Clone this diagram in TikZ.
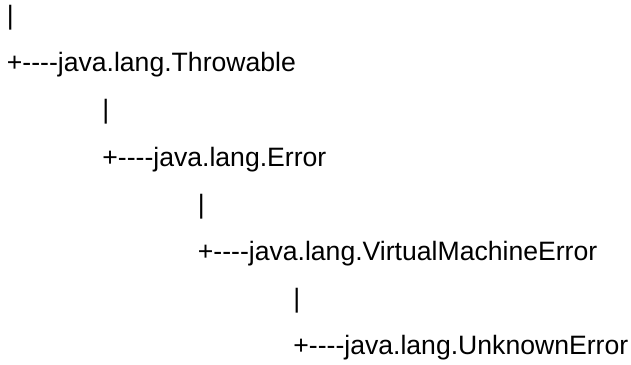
\documentclass[tikz,border=0pt]{standalone}
\usepackage{fontspec}
\setmainfont{Liberation Sans}[Ligatures=TeXOff]
\usetikzlibrary{positioning}

\begin{document}
\begin{tikzpicture}[x=1pt, y=-1pt, treeline/.style={anchor=base west, inner sep=0pt, font=\fontsize{26.6}{31}\selectfont}]
    \useasboundingbox (0,0) rectangle (631,364);
    \node[treeline] (bar0) at (6.7,24.5) {|};
    \node[treeline] (throwable) at (6.7,71.7) {+----java.lang.Throwable};
    \node[treeline] (bar1) at (102.2,118.9) {|};
    \node[treeline] (error) at (102.2,166.1) {+----java.lang.Error};
    \node[treeline] (bar2) at (197.7,213.3) {|};
    \node[treeline] (vmerror) at (197.7,260.5) {+----java.lang.VirtualMachineError};
    \node[treeline] (bar3) at (293.2,307.7) {|};
    \node[treeline] (unknown) at (293.2,354.9) {+----java.lang.UnknownError};
  \end{tikzpicture}
\end{document}
